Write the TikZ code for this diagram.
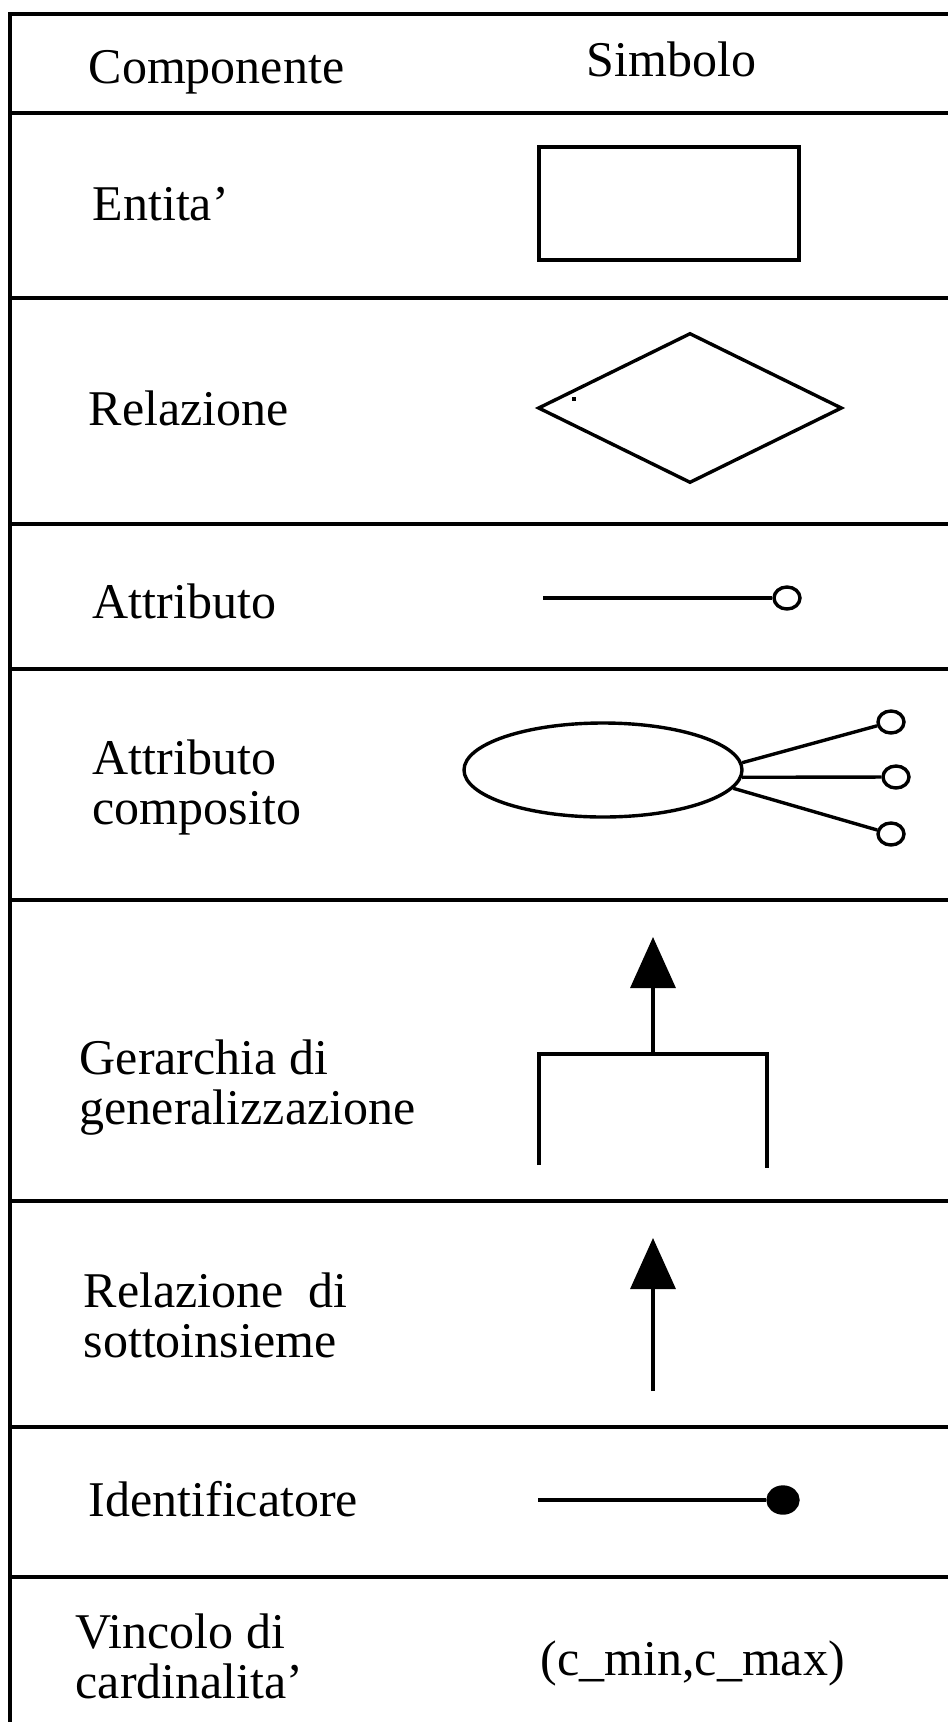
\documentclass[tikz,border=0pt]{standalone}
\usepackage{fontspec}
\setmainfont{Liberation Serif}
\usetikzlibrary{arrows.meta,shapes.geometric}
\newcommand{\isa}{-{Triangle[length=51pt,width=45pt]}}

\begin{document}
\begin{tikzpicture}[x=1pt,y=-1pt,line width=3.4pt,
  lbl/.style={anchor=base west,inner sep=0pt,align=left,font=\fontsize{50}{50}\selectfont},
  knob/.style={draw,ellipse,inner sep=0pt,minimum width=26pt,minimum height=22pt}]
\useasboundingbox (0,0) rectangle (948,1722);
%table frame
\draw (948,14) -- (10,14) -- (10,1722);
\foreach \y in {113,298,524,669,900,1201,1427,1577}
  \draw (10,\y) -- (948,\y);
%headings
\node[lbl] (hcomp) at (87,83) {Componente};
\node[lbl] (hsym) at (585,76) {Simbolo};
%entita'
\node[lbl] (tent) at (91,220) {Entita'};
\node[draw,inner sep=0pt,minimum width=260pt,minimum height=113pt] (ent) at (669,203.5) {};
%relazione
\node[lbl] (trel) at (87,425) {Relazione};
\node[draw,diamond,inner sep=0pt,minimum width=304pt,minimum height=150pt] (rel) at (690,408) {};
\fill (572,397) rectangle (576,401);
%attributo
\node[lbl] (tatt) at (91,618) {Attributo};
\coordinate (attA) at (543,598);
\node[knob] (att) at (787,598) {};
\draw (attA) -- (att);
%attributo composito (base = last line)
\node[lbl] (tcomp) at (91,824) {Attributo\\composito};
\node[draw,ellipse,inner sep=0pt,minimum width=278pt,minimum height=94pt] (comp) at (603,770) {};
\node[knob] (compA) at (891,722) {};
\node[knob] (compB) at (896,777) {};
\node[knob] (compC) at (891,834) {};
\draw (comp.3) -- (compA);
\draw (comp.-3) -- (compB);
\draw (comp.-8) -- (compC);
%gerarchia
\node[lbl] (tgen) at (78,1124) {Gerarchia di\\generalizzazione};
\coordinate (genL) at (539,1165);
\coordinate (genR) at (767,1168);
\coordinate (genM) at (653,1054);
\coordinate (genT) at (653,937);
\draw (genL) -- (genL |- genM) -- (genR |- genM) -- (genR);
\draw[\isa] (genM) -- (genT);
%sottoinsieme
\node[lbl] (tsub) at (82,1357) {Relazione\ \ di\\sottoinsieme};
\coordinate (subB) at (653,1391);
\coordinate (subT) at (653,1238);
\draw[\isa] (subB) -- (subT);
%identificatore
\node[lbl] (tid) at (87,1516) {Identificatore};
\coordinate (idA) at (538,1500);
\node[knob,fill,minimum width=30pt,minimum height=26pt] (id) at (783,1500) {};
\draw (idA) -- (id);
%cardinalita'
\node[lbl] (tcard) at (74,1698) {Vincolo di\\cardinalita'};
\node[lbl] (card) at (539,1675) {(c\_min,c\_max)};
\end{tikzpicture}
\end{document}
